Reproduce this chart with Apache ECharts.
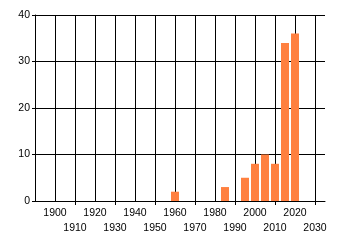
<!DOCTYPE html>
<html>
<head>
<meta charset="utf-8">
<script src="https://cdn.jsdelivr.net/npm/echarts@6/dist/echarts.min.js"></script>
<style>html,body{margin:0;padding:0;background:#fff;}#c{width:340px;height:245px;}</style>
</head>
<body>
<div id="c"></div>
<script>
const years = [1960, 1985, 1995, 2000, 2005, 2010, 2015, 2020];
const counts = [2, 3, 5, 8, 10, 8, 34, 36];
const tickYears = [1910, 1930, 1950, 1970, 1990, 2010, 2030];
const xMin = 1890, xMax = 2035;

const chart = echarts.init(document.getElementById('c'), null, {renderer: 'canvas'});
const font = {fontFamily: 'Liberation Sans', fontSize: 10.5, color: '#000'};
chart.setOption({
  animation: false,
  backgroundColor: '#fff',
  grid: {left: 35, right: 15, top: 15, bottom: 44, containLabel: false},
  xAxis: {
    type: 'value', min: xMin, max: xMax, interval: 10,
    axisLine: {show: true, lineStyle: {color: '#000', width: 1}},
    axisTick: {show: false},
    splitLine: {show: true, showMinLine: false, showMaxLine: false, lineStyle: {color: '#000', width: 1}},
    axisLabel: Object.assign({
      margin: 5, lineHeight: 15,
      showMinLabel: false, showMaxLabel: false,
      formatter: v => (v <= xMin || v > 2030) ? '' : ((v / 10) % 2 === 1 ? '\n' + v : '' + v)
    }, font)
  },
  yAxis: {
    type: 'value', min: 0, max: 40, interval: 10,
    axisLine: {show: true, lineStyle: {color: '#000', width: 1}},
    axisTick: {show: true, length: 3, lineStyle: {color: '#000'}},
    splitLine: {show: true, lineStyle: {color: '#000', width: 1}},
    axisLabel: Object.assign({margin: 5}, font)
  },
  series: [
    {
      type: 'bar', barWidth: 8,
      itemStyle: {color: '#FF8040'},
      data: years.map((y, i) => [y, counts[i]])
    },
    {
      type: 'custom', clip: false, silent: true,
      data: tickYears.map(y => [y]),
      renderItem: (params, api) => {
        const p = api.coord([api.value(0), 0]);
        const x = Math.round(p[0]) + 0.5;
        return {type: 'line', shape: {x1: x, y1: p[1], x2: x, y2: p[1] + 4},
                style: {stroke: '#000', lineWidth: 1}};
      }
    }
  ]
});
</script>
</body>
</html>
